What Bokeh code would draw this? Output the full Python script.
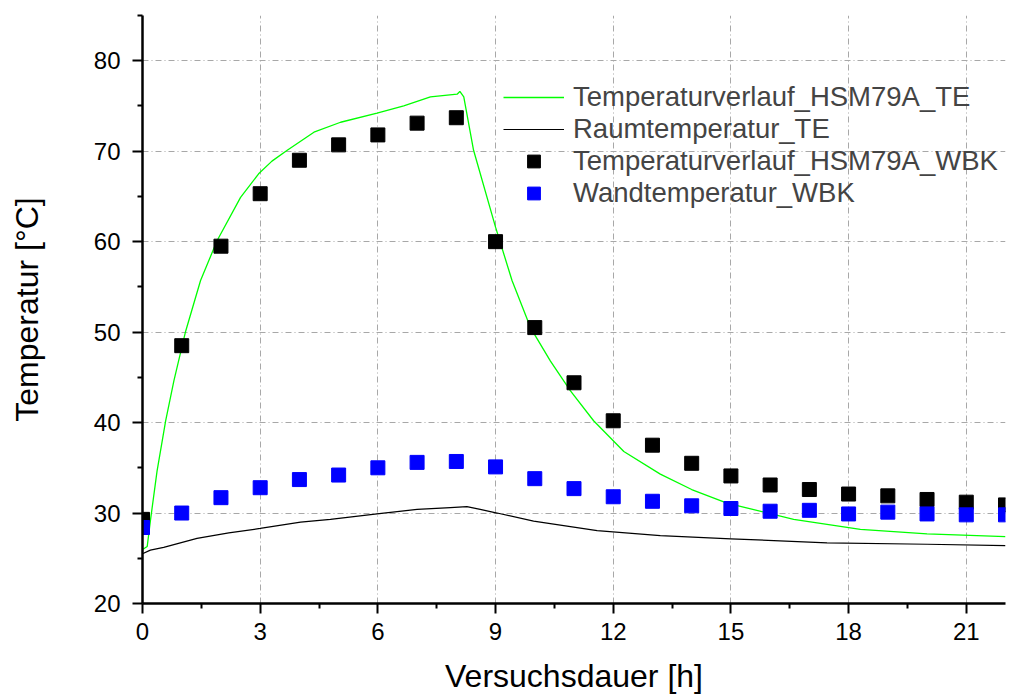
from bokeh.plotting import figure
from bokeh.models import Range1d, FixedTicker, Legend, LegendItem
from bokeh.embed import file_html
from bokeh.resources import INLINE

# ---- data ----
hours = list(range(23))
wbk_hsm = [29.3, 48.5, 59.5, 65.3, 69.0, 70.7, 71.8, 73.1, 73.7, 60.0, 50.5, 44.4,
           40.2, 37.5, 35.5, 34.1, 33.1, 32.6, 32.1, 31.9, 31.5, 31.2, 30.9]
wbk_wand = [28.4, 30.0, 31.7, 32.8, 33.7, 34.2, 35.0, 35.6, 35.7, 35.1, 33.8, 32.7,
            31.8, 31.3, 30.8, 30.5, 30.2, 30.3, 29.9, 30.1, 29.9, 29.8, 29.8]

te_hsm_t = [0.0, 0.05, 0.12, 0.2, 0.37, 0.59, 0.8, 1.1, 1.48, 1.9, 2.5, 2.96, 3.3, 3.69,
            4.37, 5.05, 5.98, 6.66, 7.34, 8.02, 8.09, 8.19, 8.44, 9.0, 9.42, 9.89,
            10.4, 10.91, 11.5, 12.27, 13.2, 14.0, 14.9, 16.6, 18.3, 20.0, 22.0]
te_hsm_v = [26.0, 26.1, 26.3, 29.1, 34.6, 40.2, 44.6, 50.1, 55.7, 60.1, 64.9, 67.5, 68.9, 70.1,
            72.1, 73.2, 74.2, 75.0, 76.0, 76.3, 76.6, 76.0, 70.1, 61.6, 55.7, 50.5,
            46.8, 43.5, 40.2, 36.8, 34.3, 32.6, 31.1, 29.3, 28.2, 27.7, 27.4]

te_raum_t = [0.0, 0.2, 0.54, 1.39, 2.2, 3.0, 4.03, 4.79, 5.98, 7.0, 7.85, 8.27, 8.61,
             9.04, 9.97, 11.59, 13.2, 15.0, 17.45, 20.0, 22.0]
te_raum_v = [25.5, 25.9, 26.2, 27.2, 27.8, 28.3, 29.0, 29.3, 29.9, 30.4, 30.6, 30.7, 30.4,
             30.0, 29.1, 28.05, 27.5, 27.15, 26.7, 26.55, 26.4]

labels = ["Temperaturverlauf_HSM79A_TE", "Raumtemperatur_TE",
          "Temperaturverlauf_HSM79A_WBK", "Wandtemperatur_WBK"]
x_ticks = [0, 3, 6, 9, 12, 15, 18, 21]
x_minor = [1.5, 4.5, 7.5, 10.5, 13.5, 16.5, 19.5]
y_ticks = [20, 30, 40, 50, 60, 70, 80]
y_minor = [25, 35, 45, 55, 65, 75, 85]

FONT = "Liberation Sans"

p = figure(width=1009, height=697, x_range=Range1d(0, 22), y_range=Range1d(20, 85),
           output_backend="svg", toolbar_location=None,
           min_border_left=142, min_border_right=4, min_border_top=15, min_border_bottom=94)
p.outline_line_color = None
p.background_fill_color = "white"

p.xaxis.ticker = FixedTicker(ticks=x_ticks, minor_ticks=x_minor)
p.yaxis.ticker = FixedTicker(ticks=y_ticks, minor_ticks=y_minor)
p.xgrid.ticker = FixedTicker(ticks=x_ticks)
p.ygrid.ticker = FixedTicker(ticks=y_ticks)
for g in (p.xgrid, p.ygrid):
    g.grid_line_color = "#a8a8a8"
    g.grid_line_width = 1
    g.grid_line_dash = "6 3 1 3"

for ax in (p.xaxis, p.yaxis):
    ax.axis_line_width = 2.5
    ax.axis_line_color = "black"
    ax.major_tick_line_width = 2
    ax.minor_tick_line_width = 2
    ax.major_tick_line_color = "black"
    ax.minor_tick_line_color = "black"
    ax.major_tick_in = 0
    ax.major_tick_out = 10
    ax.minor_tick_in = 0
    ax.minor_tick_out = 5
    ax.major_label_text_font = FONT
    ax.major_label_text_font_size = "24px"
    ax.major_label_text_color = "black"
    ax.axis_label_text_font = FONT
    ax.axis_label_text_font_size = "32px"
    ax.axis_label_text_font_style = "normal"
    ax.axis_label_text_color = "black"

p.xaxis.axis_label = "Versuchsdauer [h]"
p.yaxis.axis_label = "Temperatur [°C]"
p.xaxis.major_label_standoff = 9
p.yaxis.major_label_standoff = 12
p.xaxis.axis_label_standoff = 15
p.yaxis.axis_label_standoff = 46

r1 = p.line(te_hsm_t, te_hsm_v, line_color="#00ff00", line_width=1.3)
r2 = p.line(te_raum_t, te_raum_v, line_color="black", line_width=1.2)
r3 = p.scatter(hours, wbk_hsm, marker="square", size=14,
               fill_color="black", line_color="black")
r4 = p.scatter(hours, wbk_wand, marker="square", size=14,
               fill_color="#0000ff", line_color="#0000ff")

legend = Legend(items=[LegendItem(label=labels[0], renderers=[r1]),
                       LegendItem(label=labels[1], renderers=[r2]),
                       LegendItem(label=labels[2], renderers=[r3]),
                       LegendItem(label=labels[3], renderers=[r4])],
                location=(361, 394), glyph_width=61, glyph_height=32, label_height=32,
                label_standoff=9, spacing=0, padding=0, margin=0,
                label_text_font=FONT, label_text_font_size="27.5px",
                background_fill_alpha=0, border_line_alpha=0)
p.add_layout(legend)

open("out.html", "w").write(file_html(p, INLINE))
